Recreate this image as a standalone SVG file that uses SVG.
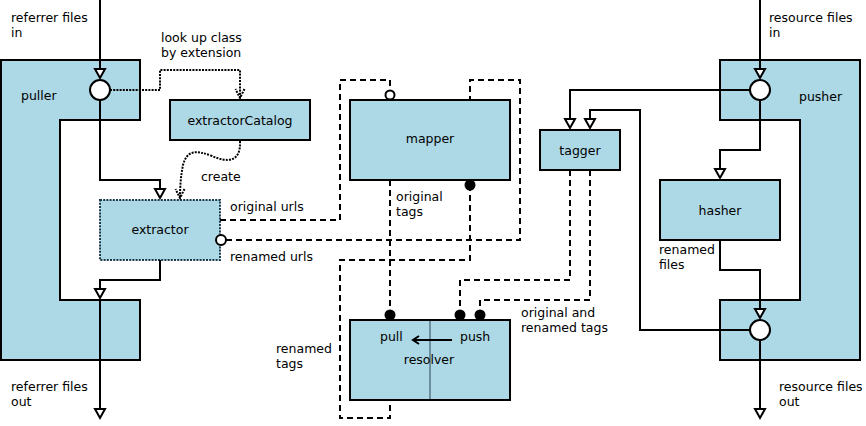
<svg xmlns="http://www.w3.org/2000/svg" width="866" height="426" viewBox="0 0 866 426">
<defs>
<style>
text{font-family:"DejaVu Sans","Liberation Sans",sans-serif;font-size:12.5px;fill:#000}
.c{text-anchor:middle}
.box{fill:#add8e6;stroke:#000;stroke-width:2}
.wire{fill:none;stroke:#000;stroke-width:2}
.dash{fill:none;stroke:#000;stroke-width:2;stroke-dasharray:6,4}
.dot{fill:none;stroke:#000;stroke-width:2;stroke-dasharray:2,1.2}
.port{fill:#fff;stroke:#000;stroke-width:2}
.blob{fill:#000}
</style>
<marker id="tri" viewBox="0 0 10 10" refX="9" refY="5" markerWidth="10" markerHeight="10" markerUnits="userSpaceOnUse" orient="auto" overflow="visible">
<path d="M0,0 L9,5 L0,10 Z" fill="#fff" stroke="#000" stroke-width="2"/>
</marker>
<marker id="vee" viewBox="0 0 10 10" refX="9" refY="5" markerWidth="10" markerHeight="10" markerUnits="userSpaceOnUse" orient="auto" overflow="visible">
<path d="M0,0.5 L9,5 L0,9.5" fill="none" stroke="#000" stroke-width="2" stroke-dasharray="2,1.2"/>
</marker>
<marker id="vee2" viewBox="0 0 8 8" refX="1" refY="4" markerWidth="8" markerHeight="8" markerUnits="userSpaceOnUse" orient="auto" overflow="visible">
<path d="M-5,0 L1,4 L-5,8" fill="none" stroke="#000" stroke-width="2"/>
</marker>
</defs>

<g id="puller">
<path class="box" d="M1,60 H140 V120 H60 V300 H140 V360 H1 Z"/>
<text x="21" y="100">puller</text>
</g>

<g id="pusher">
<path class="box" d="M720,60 H860 V360 H720 V300 H800 V120 H720 Z"/>
<text x="799" y="101">pusher</text>
</g>

<g id="extractorCatalog">
<rect class="box" x="170" y="100" width="140" height="40"/>
<text class="c" x="240" y="125">extractorCatalog</text>
</g>

<g id="extractor">
<rect x="100" y="200" width="120" height="60" fill="#add8e6" stroke="#1c3a4a" stroke-width="2" stroke-dasharray="2,1.2"/>
<text class="c" x="160" y="234">extractor</text>
</g>

<g id="mapper">
<rect class="box" x="350" y="100" width="160" height="80"/>
<text class="c" x="430" y="143">mapper</text>
</g>

<g id="tagger">
<rect class="box" x="540" y="130" width="80" height="40"/>
<text class="c" x="580" y="155">tagger</text>
</g>

<g id="hasher">
<rect class="box" x="660" y="180" width="120" height="60"/>
<text class="c" x="720" y="215">hasher</text>
</g>

<g id="resolver">
<rect class="box" x="350" y="320" width="160" height="80"/>
<line x1="430" y1="321" x2="430" y2="399" stroke="#6f8e9b" stroke-width="2"/>
<text x="380" y="341">pull</text>
<text x="460" y="341">push</text>
<text class="c" x="429" y="364">resolver</text>
<path class="wire" d="M452,340 H413" marker-end="url(#vee2)"/>
</g>

<g id="connectors">
<path class="wire" d="M100,0 V78" marker-end="url(#tri)"/>
<path class="wire" d="M100,100 V180 H160 V198" marker-end="url(#tri)"/>
<path class="wire" d="M160,260 V280 H100 V298" marker-end="url(#tri)"/>
<path class="wire" d="M100,300 V418" marker-end="url(#tri)"/>
<path class="wire" d="M760,0 V78" marker-end="url(#tri)"/>
<path class="wire" d="M760,100 V150 H720 V178" marker-end="url(#tri)"/>
<path class="wire" d="M750,90 H570 V128" marker-end="url(#tri)"/>
<path class="wire" d="M750,330 H640 V110 H590 V128" marker-end="url(#tri)"/>
<path class="wire" d="M720,240 V270 H760 V318" marker-end="url(#tri)"/>
<path class="wire" d="M760,340 V418" marker-end="url(#tri)"/>

<path class="dot" d="M110,90 H160 V70 H240 V98" marker-end="url(#vee)"/>
<path class="dot" d="M240,141 C241,162 228,163 212,156 C196,150 187,150 183,165 C181,175 180,185 180,198" marker-end="url(#vee)"/>

<path class="dash" d="M220,220 H340 V80 H390 V90"/>
<path class="dash" d="M226,240 H520 V80 H470 V100"/>
<path class="dash" d="M390,180 V310"/>
<path class="dash" d="M470,185 V260 H340 V418 H390 V400"/>
<path class="dash" d="M570,170 V280 H460 V310"/>
<path class="dash" d="M590,170 V300 H480 V310"/>

<circle class="port" cx="100" cy="90" r="10"/>
<circle class="port" cx="760" cy="90" r="10"/>
<circle class="port" cx="760" cy="330" r="10"/>
<circle class="port" cx="221" cy="240" r="5"/>
<circle class="port" cx="390" cy="95" r="4.5"/>
<circle class="blob" cx="470" cy="185" r="5.5"/>
<circle class="blob" cx="390" cy="315" r="5.5"/>
<circle class="blob" cx="460" cy="315" r="5.5"/>
<circle class="blob" cx="480" cy="315" r="5.5"/>
</g>

<g id="labels">
<text x="11" y="22">referrer files</text>
<text x="11" y="37">in</text>
<text x="161" y="41.5">look up class</text>
<text x="161" y="56.5">by extension</text>
<text x="201" y="181">create</text>
<text x="230" y="211">original urls</text>
<text x="230" y="261">renamed urls</text>
<text x="396" y="201">original</text>
<text x="396" y="216">tags</text>
<text x="659" y="254">renamed</text>
<text x="659" y="269">files</text>
<text x="521" y="317">original and</text>
<text x="521" y="332">renamed tags</text>
<text x="276" y="353">renamed</text>
<text x="276" y="368">tags</text>
<text x="11" y="391">referrer files</text>
<text x="11" y="406">out</text>
<text x="769" y="22">resource files</text>
<text x="769" y="37">in</text>
<text x="779" y="391">resource files</text>
<text x="779" y="406">out</text>
</g>
</svg>
